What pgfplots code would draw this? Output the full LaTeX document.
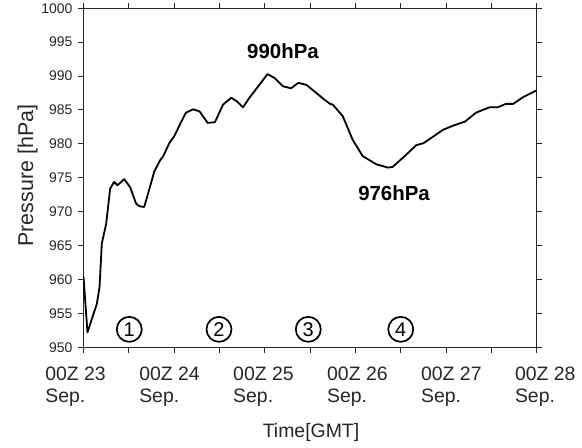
\documentclass[border=0pt]{standalone}
\usepackage{fontspec}
\setmainfont{Liberation Sans}
\usepackage{pgfplots}
\pgfplotsset{compat=1.18}
\begin{document}
\begin{tikzpicture}
\begin{axis}[
  scale only axis, width=453.2bp, height=339bp,
  xmin=0, xmax=5, ymin=950, ymax=1000,
  xtick={0,1,2,3,4,5},
  minor xtick={0.5,1.5,2.5,3.5,4.5},
  ytick={950,955,...,1000},
  tick align=outside, tick pos=both,
  major tick length=5.5bp, minor tick length=5.5bp,
  every tick/.style={black!85, line width=1bp},
  axis line style={line width=1.3bp, black!85},
  /pgf/number format/assume math mode=true,
  /pgf/number format/1000 sep={},
  yticklabel style={font=\fontsize{14}{16}\selectfont, xshift=-2bp, text=black!85},
  xticklabel={\pgfmathtruncatemacro\dd{23+\ticknum}\pgfmathsetlengthmacro\sh{(\ticknum-2.4)*6.6bp}\hspace*{\sh}\begin{tabular}{@{}l@{}}00Z \dd\\Sep.\end{tabular}},
  xticklabel style={font=\fontsize{19.5}{22}\selectfont, yshift=-8.7bp, text=black!85},
  xlabel={Time[GMT]},
  xlabel style={at={(rel axis cs:0.502,-0.266)}, anchor=base, inner sep=0pt, font=\fontsize{19.5}{22}\selectfont, text=black!85},
  ylabel={Pressure [hPa]},
  ylabel style={at={(rel axis cs:-0.1114,0.5065)}, anchor=base, inner sep=0pt, font=\fontsize{21.5}{24}\selectfont, text=black!85},
]
\addplot[black, line width=1.8bp, line join=round] coordinates {
(0.000,960.4) (0.044,952.2) (0.100,954.5) (0.147,956.4) (0.177,958.9)
(0.202,965.3) (0.250,968.2) (0.294,973.4) (0.338,974.4) (0.375,973.9)
(0.449,974.8) (0.515,973.6) (0.580,971.2) (0.618,970.8) (0.670,970.7)
(0.728,973.4) (0.780,975.9) (0.846,977.6) (0.880,978.2) (0.950,980.2)
(1.000,981.1) (1.080,983.3) (1.130,984.6) (1.210,985.1) (1.280,984.8)
(1.370,983.1) (1.450,983.2) (1.540,985.8) (1.630,986.8) (1.690,986.3)
(1.760,985.4) (1.830,986.8) (1.940,988.7) (2.030,990.3) (2.110,989.7)
(2.200,988.5) (2.290,988.2) (2.370,989.0) (2.460,988.7) (2.570,987.5)
(2.660,986.5) (2.720,985.9) (2.750,985.8) (2.860,984.1) (2.970,980.6)
(3.080,978.2) (3.230,977.0) (3.360,976.5) (3.410,976.6) (3.560,978.4)
(3.670,979.8) (3.750,980.1) (3.860,981.1) (3.970,982.1) (4.080,982.7)
(4.210,983.3) (4.330,984.6) (4.480,985.4) (4.570,985.4) (4.660,985.9)
(4.740,985.9) (4.850,986.9) (5.000,987.9)
};
\node[font=\bfseries\fontsize{20.5}{22}\selectfont] at (axis cs:2.201,993.6) {990hPa};
\node[font=\bfseries\fontsize{20.5}{22}\selectfont] at (axis cs:3.426,972.7) {976hPa};
\node[circle, draw, line width=1.7bp, minimum size=25bp, inner sep=0pt, font=\fontsize{20}{20}\selectfont] at (axis cs:0.505,952.65) {1};
\node[circle, draw, line width=1.7bp, minimum size=25bp, inner sep=0pt, font=\fontsize{20}{20}\selectfont] at (axis cs:1.495,952.65) {2};
\node[circle, draw, line width=1.7bp, minimum size=25bp, inner sep=0pt, font=\fontsize{20}{20}\selectfont] at (axis cs:2.480,952.65) {3};
\node[circle, draw, line width=1.7bp, minimum size=25bp, inner sep=0pt, font=\fontsize{20}{20}\selectfont] at (axis cs:3.500,952.65) {4};
\end{axis}
\pgfresetboundingbox
\useasboundingbox (-83.5bp,-100.7bp) rectangle (498.5bp,347.3bp);
\end{tikzpicture}
\end{document}
